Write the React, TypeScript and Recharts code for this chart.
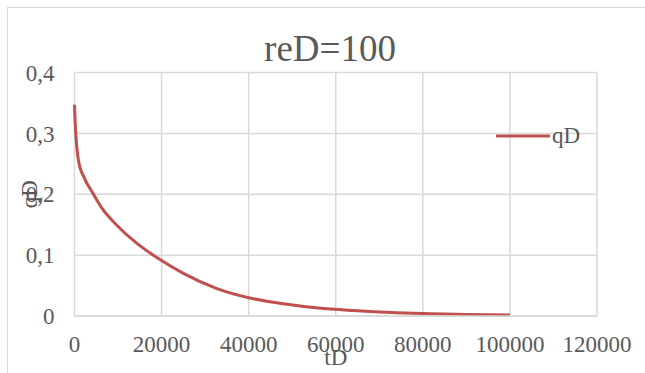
import React from "react";
import { LineChart, Line, XAxis, YAxis, CartesianGrid, Legend } from "recharts";

// values
const tD = [0, 150, 400, 900, 2300, 4200, 6500, 9600, 14200, 20000, 25000, 32700, 40000, 48000, 56000, 64000, 74000, 82000, 90000, 100000];
const qD = [0.347, 0.318, 0.289, 0.256, 0.226, 0.202, 0.175, 0.15, 0.12, 0.091, 0.07, 0.045, 0.03, 0.02, 0.013, 0.009, 0.0055, 0.0038, 0.0026, 0.0015];
const xTicks = [0, 20000, 40000, 60000, 80000, 100000, 120000];
const yTicks = [0, 0.1, 0.2, 0.3, 0.4];

const data = tD.map((t, i) => ({ tD: t, qD: qD[i] }));

const FONT = "'Liberation Serif', 'Times New Roman', serif";
const TEXT = "#595959";
const RED = "#c0504d";
const GRID = "#d9d9d9";

const LegendBox = () => (
    <div style={{ display: "flex", alignItems: "center", fontFamily: FONT, fontSize: 23, color: TEXT }}>
        <svg width={54} height={10}>
            <line x1={1} y1={5} x2={53} y2={5} stroke={RED} strokeWidth={3} strokeLinecap="round" />
        </svg>
        <span style={{ marginLeft: 2 }}>qD</span>
    </div>
);

export default function App() {
    return (
        <div style={{ position: "absolute", left: 0, top: 0, width: 645, height: 373, background: "#fff", overflow: "hidden" }}>
            <div style={{ position: "absolute", left: 7, top: 7, width: 660, height: 400, border: `1px solid ${GRID}` }} />
            <div
                style={{
                    position: "absolute",
                    left: 230,
                    width: 200,
                    top: 26,
                    textAlign: "center",
                    fontFamily: FONT,
                    fontSize: 37,
                    color: TEXT,
                    lineHeight: "46px",
                }}
            >
                reD=100
            </div>
            <LineChart
                width={645}
                height={373}
                data={data}
                margin={{ top: 72.5, right: 48, left: 0.5, bottom: 0 }}
                style={{ position: "absolute", left: 0, top: 0 }}
            >
                <CartesianGrid stroke={GRID} strokeWidth={1.5} />
                <XAxis
                    dataKey="tD"
                    type="number"
                    domain={[0, 120000]}
                    ticks={xTicks}
                    height={57}
                    tickLine={false}
                    tickSize={0}
                    tickMargin={20}
                    axisLine={{ stroke: GRID, strokeWidth: 1.5 }}
                    tick={{ fill: TEXT, fontSize: 23, fontFamily: FONT }}
                    label={{ value: "tD", position: "insideBottom", offset: 8, fill: TEXT, fontSize: 23, fontFamily: FONT }}
                />
                <YAxis
                    type="number"
                    domain={[0, 0.4]}
                    ticks={yTicks}
                    width={74}
                    tickLine={false}
                    tickSize={0}
                    tickMargin={20}
                    axisLine={false}
                    tickFormatter={(v: number) => String(v).replace(".", ",")}
                    tick={{ fill: TEXT, fontSize: 23, fontFamily: FONT }}
                    label={{
                        value: "qD",
                        angle: -90,
                        position: "insideLeft",
                        offset: 28,
                        fill: TEXT,
                        fontSize: 23,
                        fontFamily: FONT,
                        style: { textAnchor: "middle" },
                    }}
                />
                <Legend
                    layout="vertical"
                    align="center"
                    verticalAlign="middle"
                    content={() => <LegendBox />}
                    wrapperStyle={{ position: "absolute", left: 496, top: 123, width: 100 }}
                />
                <Line
                    type="monotone"
                    dataKey="qD"
                    stroke={RED}
                    strokeWidth={3}
                    dot={false}
                    isAnimationActive={false}
                    legendType="line"
                />
            </LineChart>
        </div>
    );
}
